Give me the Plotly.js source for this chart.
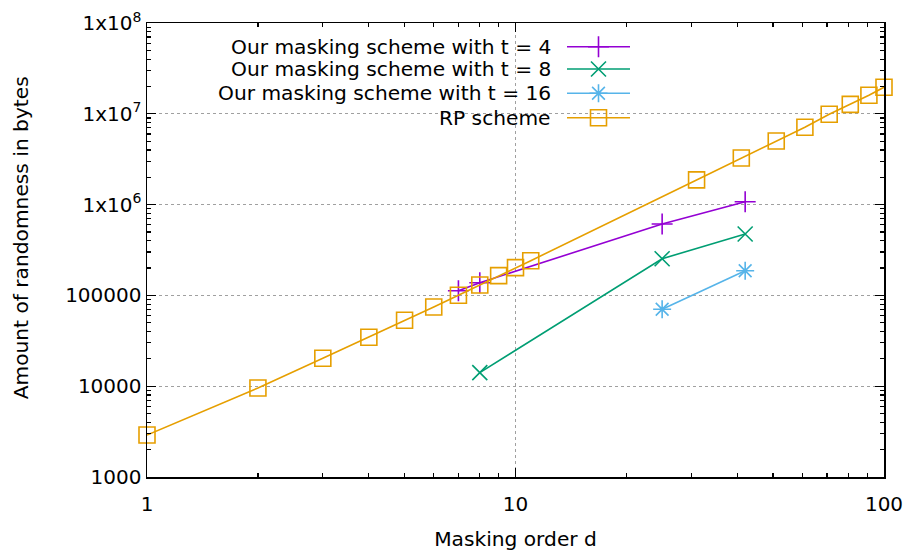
<!DOCTYPE html>
<html><head><meta charset="utf-8">
<script src="https://cdn.plot.ly/plotly-3.0.1.min.js"></script>
<style>body{margin:0;background:#fff}#c{width:907px;height:551px}</style>
</head><body><div id="c"></div>
<script>
// Data
const rpD   = [1, 2, 3, 4, 5, 6, 7, 8, 9, 10, 11, 31, 41, 51, 61, 71, 81, 91, 100];
const rpR   = [2900, 9550, 20300, 34600, 53200, 74500, 100200, 130000, 165000, 202000, 241000,
               1.87e6, 3.26e6, 5.01e6, 7.10e6, 9.87e6, 1.27e7, 1.60e7, 1.96e7];
const t4D   = [7, 8, 25, 42];
const t4R   = [112700, 138000, 611000, 1.076e6];
const t8D   = [8, 25, 42];
const t8R   = [14090, 253600, 474000];
const t16D  = [25, 42];
const t16R  = [70300, 187000];
const names = ['Our masking scheme with t = 4', 'Our masking scheme with t = 8',
               'Our masking scheme with t = 16', 'RP scheme'];
const xTitle = 'Masking order d';
const yTitle = 'Amount of randomness in bytes';
const xTickVals = [1, 10, 100];
const xTickText = ['1', '10', '100'];
const yTickVals = [1000, 1e4, 1e5, 1e6, 1e7, 1e8];
const yTickText = ['1000', '10000', '100000', '1x10<sup>6</sup>', '1x10<sup>7</sup>', '1x10<sup>8</sup>'];

const colors  = ['#9400d3', '#009e73', '#56b4e9', '#e69f00'];
const symbols = ['cross-thin-open', 'x-thin-open', 'asterisk-open', 'square-open'];
const msizes  = [15, 15, 15, 16];
const FONT = 'DejaVu Sans';
const FS = 20;
const FT = 20.2;

function minorVals(lo, hi) {
  const v = [];
  for (let e = lo; e < hi; e++) for (let m = 2; m <= 9; m++) v.push(m * Math.pow(10, e));
  return v;
}

const series = [[t4D, t4R], [t8D, t8R], [t16D, t16R], [rpD, rpR]];
const traces = series.map((s, i) => ({
  x: s[0], y: s[1], type: 'scatter', mode: 'lines+markers', name: names[i],
  line: {color: colors[i], width: 1.6},
  marker: {symbol: symbols[i], size: msizes[i], color: colors[i],
           line: {color: colors[i], width: 1.6}},
  showlegend: false, cliponaxis: false
}));

// Legend (gnuplot style: text right-aligned, sample to the right)
const legY = [0.9478, 0.8987, 0.8452, 0.7914]; // paper coords of the rows
const sampleX0 = (567 - 147) / 737, sampleX1 = (630 - 147) / 737, sampleXm = (598.5 - 147) / 737;
const textX = (553 - 147) / 737;
const shapes = [{type: 'rect', xref: 'paper', yref: 'paper',
                 x0: 0.015, x1: (642 - 147) / 737, y0: 0.766, y1: 0.985,
                 fillcolor: '#fff', line: {width: 0}, layer: 'between'}];
const annotations = [];
names.forEach((n, i) => {
  shapes.push({type: 'line', xref: 'paper', yref: 'paper', x0: sampleX0, x1: sampleX1,
               y0: legY[i], y1: legY[i], line: {color: colors[i], width: 1.6}, layer: 'between'});
  annotations.push({xref: 'paper', yref: 'paper', x: textX, y: legY[i], text: n,
                    showarrow: false, xanchor: 'right', yanchor: 'middle',
                    font: {family: FONT, size: FT, color: '#000'}});
  traces.push({x: [sampleXm], y: [legY[i]], xaxis: 'x2', yaxis: 'y2', type: 'scatter',
               mode: 'markers', showlegend: false, hoverinfo: 'skip',
               marker: {symbol: symbols[i], size: msizes[i], color: colors[i],
                        line: {color: colors[i], width: 1.6}}});
});
// y-axis title (placed like gnuplot's, slightly above centre)
annotations.push({xref: 'paper', yref: 'paper', x: -(147 - 21) / 737, y: 1 - (238.3 - 23) / 454,
                  text: yTitle, textangle: -90, showarrow: false,
                  xanchor: 'center', yanchor: 'middle',
                  font: {family: FONT, size: FT, color: '#000'}});

const axCommon = {
  type: 'log', showline: true, linecolor: '#000', linewidth: 1.5, mirror: 'allticks',
  ticks: 'inside', ticklen: 9, tickwidth: 1.2, tickcolor: '#000',
  showgrid: true, gridcolor: '#a0a0a0', griddash: 'dot', gridwidth: 1,
  zeroline: false, tickfont: {family: FONT, size: FS, color: '#000'},
  tickmode: 'array'
};

const layout = {
  width: 907, height: 551,
  margin: {l: 147, r: 23, t: 23, b: 74},
  paper_bgcolor: '#fff', plot_bgcolor: '#fff',
  font: {family: FONT, size: FS, color: '#000'},
  showlegend: false,
  xaxis: Object.assign({}, axCommon, {
    range: [0, 2], tickvals: xTickVals, ticktext: xTickText, ticklabelstandoff: 8,
    minor: {tickmode: 'array', tickvals: minorVals(0, 2), ticks: 'inside', ticklen: 4,
            tickwidth: 1.2, tickcolor: '#000', showgrid: false},
    title: {text: xTitle, font: {family: FONT, size: FT}, standoff: 17}
  }),
  yaxis: Object.assign({}, axCommon, {
    range: [3, 8], tickvals: yTickVals, ticktext: yTickText,
    minor: {tickmode: 'array', tickvals: minorVals(3, 8), ticks: 'inside', ticklen: 4,
            tickwidth: 1.2, tickcolor: '#000', showgrid: false}
  }),
  xaxis2: {range: [0, 1], domain: [0, 1], overlaying: 'x', visible: false, fixedrange: true},
  yaxis2: {range: [0, 1], domain: [0, 1], overlaying: 'y', visible: false, fixedrange: true},
  shapes: shapes, annotations: annotations
};

Plotly.newPlot('c', traces, layout, {displayModeBar: false, staticPlot: true});
</script></body></html>
